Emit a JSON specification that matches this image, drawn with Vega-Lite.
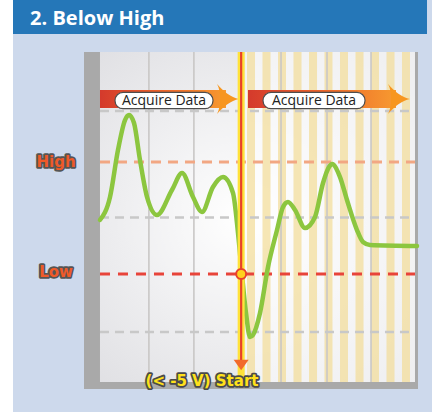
{
  "$schema": "https://vega.github.io/schema/vega-lite/v6.json",
  "width": 419,
  "height": 412,
  "autosize": {"type": "none"},
  "padding": {"left": 13, "top": 0, "right": 0, "bottom": 3},
  "background": "#ffffff",
  "view": {"fill": "#cdd9ec", "stroke": null},
  "encoding": {
    "x": {"field": "t", "type": "quantitative", "scale": {"domain": [-5.07, 4.241], "nice": false, "zero": false}, "axis": null},
    "y": {"field": "v", "type": "quantitative", "scale": {"domain": [-17, 19], "nice": false, "zero": false}, "axis": null}
  },
  "layer": [
    {
      "data": {"values": [{"t": -5.07, "t2": 4.13, "v": 16.03, "v2": 19}]},
      "mark": {"type": "rect", "color": "#2577b8"},
      "encoding": {"x2": {"field": "t2"}, "y2": {"field": "v2"}}
    },
    {
      "data": {"values": [{"t": -4.69, "v": 16.85, "label": "2. Below High"}]},
      "mark": {"type": "text", "align": "left", "baseline": "alphabetic", "font": "Open Sans", "fontWeight": "bold", "fontSize": 20, "color": "#ffffff"},
      "encoding": {"text": {"field": "label"}}
    },
    {
      "data": {"values": [{"t": -3.492, "t2": 3.93, "v": -14.99, "v2": 14.456}]},
      "mark": {"type": "rect", "color": "#a9a9a9"},
      "encoding": {"x2": {"field": "t2"}, "y2": {"field": "v2"}}
    },
    {
      "data": {"values": [{"t": -3.137, "t2": 3.863, "v": -14.38, "v2": 14.456}]},
      "mark": {"type": "rect", "fill": {"gradient": "radial", "x1": 0.45, "y1": 0.5, "x2": 0.45, "y2": 0.5, "r1": 0, "r2": 0.75, "stops": [{"offset": 0, "color": "#ffffff"}, {"offset": 1, "color": "#dcdce0"}]}},
      "encoding": {"x2": {"field": "t2"}, "y2": {"field": "v2"}}
    },
    {
      "data": {"values": [{"t": 0.09, "t2": 3.863, "v": -14.38, "v2": 14.456}]},
      "mark": {"type": "rect", "color": "#ffffff", "opacity": 0.5},
      "encoding": {"x2": {"field": "t2"}, "y2": {"field": "v2"}}
    },
    {
      "data": {"values": [
        {"t": 0.13, "t2": 0.308, "v": -14.38, "v2": 14.456},
        {"t": 0.474, "t2": 0.652, "v": -14.38, "v2": 14.456},
        {"t": 0.819, "t2": 0.997, "v": -14.38, "v2": 14.456},
        {"t": 1.163, "t2": 1.341, "v": -14.38, "v2": 14.456},
        {"t": 1.508, "t2": 1.686, "v": -14.38, "v2": 14.456},
        {"t": 1.852, "t2": 2.03, "v": -14.38, "v2": 14.456},
        {"t": 2.197, "t2": 2.374, "v": -14.38, "v2": 14.456},
        {"t": 2.541, "t2": 2.719, "v": -14.38, "v2": 14.456},
        {"t": 2.886, "t2": 3.063, "v": -14.38, "v2": 14.456},
        {"t": 3.23, "t2": 3.408, "v": -14.38, "v2": 14.456},
        {"t": 3.574, "t2": 3.752, "v": -14.38, "v2": 14.456}
      ]},
      "mark": {"type": "rect", "color": "#f3dc98", "opacity": 0.72},
      "encoding": {"x2": {"field": "t2"}, "y2": {"field": "v2"}}
    },
    {
      "data": {"values": [
        {"t": -2.05, "v": -14.38, "v2": 14.456},
        {"t": -1.05, "v": -14.38, "v2": 14.456},
        {"t": 0.886, "v": -14.38, "v2": 14.456},
        {"t": 1.908, "v": -14.38, "v2": 14.456},
        {"t": 2.886, "v": -14.38, "v2": 14.456}
      ]},
      "mark": {"type": "rule", "color": "#c9c7c6", "strokeWidth": 1.6},
      "encoding": {"y2": {"field": "v2"}}
    },
    {
      "data": {"values": [
        {"t": -3.137, "t2": 3.863, "v": 9.3},
        {"t": -3.137, "t2": 3.863, "v": 0.0},
        {"t": -3.137, "t2": 3.863, "v": -10.0}
      ]},
      "mark": {"type": "rule", "color": "#c8c8c8", "strokeWidth": 2.5, "strokeDash": [9, 6]},
      "encoding": {"x2": {"field": "t2"}}
    },
    {
      "data": {"values": [{"t": -3.137, "t2": 3.863, "v": 4.84}]},
      "mark": {"type": "rule", "color": "#f2a783", "strokeWidth": 3, "strokeDash": [10, 7]},
      "encoding": {"x2": {"field": "t2"}}
    },
    {
      "data": {"values": [{"t": -3.137, "t2": 3.863, "v": -4.94}]},
      "mark": {"type": "rule", "color": "#e8443a", "strokeWidth": 3, "strokeDash": [10, 8]},
      "encoding": {"x2": {"field": "t2"}}
    },
    {
      "data": {"values": [
        {"t": -3.137, "t2": -0.337, "v": 9.56, "v2": 11.14},
        {"t": 0.152, "t2": 3.441, "v": 9.56, "v2": 11.14}
      ]},
      "mark": {"type": "rect", "fill": {"gradient": "linear", "x1": 0, "y1": 0, "x2": 1, "y2": 0, "stops": [{"offset": 0, "color": "#d43a2c"}, {"offset": 0.5, "color": "#ec642a"}, {"offset": 1, "color": "#f79a30"}]}},
      "encoding": {"x2": {"field": "t2"}, "y2": {"field": "v2"}}
    },
    {
      "data": {"values": [{"t": -0.292, "v": 10.35}, {"t": 3.508, "v": 10.35}]},
      "mark": {"type": "point", "shape": "M-0.73,-1 C-0.3,-0.5 0.2,-0.1 0.73,0 C0.2,0.1 -0.3,0.5 -0.73,1 C-0.45,0.5 -0.45,-0.5 -0.73,-1 Z", "filled": true, "size": 900, "color": "#f7961f", "opacity": 1, "strokeWidth": 0}
    },
    {
      "data": {"values": [
        {"t": -2.803, "t2": -0.626, "v": 9.5, "v2": 10.93},
        {"t": 0.486, "t2": 2.752, "v": 9.5, "v2": 10.93}
      ]},
      "mark": {"type": "rect", "color": "#ffffff", "stroke": "#4d4d4d", "strokeWidth": 1.2, "cornerRadius": 8},
      "encoding": {"x2": {"field": "t2"}, "y2": {"field": "v2"}}
    },
    {
      "data": {"values": [
        {"t": -1.714, "v": 9.85, "label": "Acquire Data"},
        {"t": 1.619, "v": 9.85, "label": "Acquire Data"}
      ]},
      "mark": {"type": "text", "align": "center", "baseline": "alphabetic", "font": "Open Sans", "fontSize": 14, "color": "#222222"},
      "encoding": {"text": {"field": "label"}}
    },
    {
      "data": {"values": [
        {"t": -3.137, "v": -0.22}, {"t": -2.914, "v": 1.79}, {"t": -2.737, "v": 5.89}, {"t": -2.581, "v": 8.51},
        {"t": -2.492, "v": 8.95}, {"t": -2.381, "v": 8.25}, {"t": -2.248, "v": 5.02}, {"t": -2.092, "v": 1.79},
        {"t": -1.87, "v": 0.21}, {"t": -1.537, "v": 2.4}, {"t": -1.314, "v": 3.88}, {"t": -1.07, "v": 1.79},
        {"t": -0.87, "v": 0.48}, {"t": -0.626, "v": 2.66}, {"t": -0.403, "v": 3.53}, {"t": -0.181, "v": 2.14},
        {"t": -0.07, "v": -1.36}, {"t": 0.019, "v": -5.03}, {"t": 0.108, "v": -8.35}, {"t": 0.197, "v": -10.45},
        {"t": 0.263, "v": -10.27}, {"t": 0.419, "v": -8.35}, {"t": 0.597, "v": -4.33}, {"t": 0.797, "v": -1.1},
        {"t": 0.93, "v": 0.91}, {"t": 1.041, "v": 1.35}, {"t": 1.197, "v": 0.65}, {"t": 1.419, "v": -0.92},
        {"t": 1.641, "v": 0.04}, {"t": 1.819, "v": 3.01}, {"t": 1.952, "v": 4.41}, {"t": 2.019, "v": 4.67},
        {"t": 2.197, "v": 3.53}, {"t": 2.352, "v": 1.52}, {"t": 2.574, "v": -1.1}, {"t": 2.708, "v": -2.15},
        {"t": 2.863, "v": -2.41}, {"t": 3.908, "v": -2.5}
      ]},
      "mark": {"type": "line", "interpolate": "monotone", "color": "#8cc63f", "strokeWidth": 4.5, "strokeCap": "round"}
    },
    {
      "data": {"values": [{"t": 0, "v": -14.47, "v2": 14.456}]},
      "mark": {"type": "rule", "color": "#ffe23a", "strokeWidth": 7},
      "encoding": {"y2": {"field": "v2"}}
    },
    {
      "data": {"values": [{"t": 0, "v": -12.63, "v2": 14.456}]},
      "mark": {"type": "rule", "color": "#e8412a", "strokeWidth": 2.2},
      "encoding": {"y2": {"field": "v2"}}
    },
    {
      "data": {"values": [{"t": 0, "v": -12.9}]},
      "mark": {"type": "point", "shape": "M-1,-0.7 L1,-0.7 L0,0.7 Z", "filled": true, "size": 225, "color": "#f26a2a", "opacity": 1, "strokeWidth": 0}
    },
    {
      "data": {"values": [{"t": 0, "v": -4.94}]},
      "mark": {"type": "point", "shape": "circle", "filled": true, "size": 100, "fill": "#ffd21f", "stroke": "#e8412a", "strokeWidth": 2, "opacity": 1}
    },
    {
      "data": {"values": [
        {"t": -4.114, "v": 4.41, "label": "High"},
        {"t": -4.114, "v": -5.2, "label": "Low"}
      ]},
      "mark": {"type": "text", "align": "center", "baseline": "alphabetic", "font": "DejaVu Sans", "fontWeight": "bold", "fontSize": 15, "color": "#555555", "stroke": "#555555", "strokeWidth": 3.5, "strokeJoin": "round"},
      "encoding": {"text": {"field": "label"}}
    },
    {
      "data": {"values": [
        {"t": -4.114, "v": 4.41, "label": "High"},
        {"t": -4.114, "v": -5.2, "label": "Low"}
      ]},
      "mark": {"type": "text", "align": "center", "baseline": "alphabetic", "font": "DejaVu Sans", "fontWeight": "bold", "fontSize": 15, "color": "#ef5a28"},
      "encoding": {"text": {"field": "label"}}
    },
    {
      "data": {"values": [{"t": -0.87, "v": -14.73, "label": "(< -5 V) Start"}]},
      "mark": {"type": "text", "align": "center", "baseline": "alphabetic", "font": "DejaVu Sans", "fontWeight": "bold", "fontSize": 15, "color": "#4a4a4a", "stroke": "#4a4a4a", "strokeWidth": 3.5, "strokeJoin": "round"},
      "encoding": {"text": {"field": "label"}}
    },
    {
      "data": {"values": [{"t": -0.87, "v": -14.73, "label": "(< -5 V) Start"}]},
      "mark": {"type": "text", "align": "center", "baseline": "alphabetic", "font": "DejaVu Sans", "fontWeight": "bold", "fontSize": 15, "color": "#ffe11a"},
      "encoding": {"text": {"field": "label"}}
    }
  ]
}
